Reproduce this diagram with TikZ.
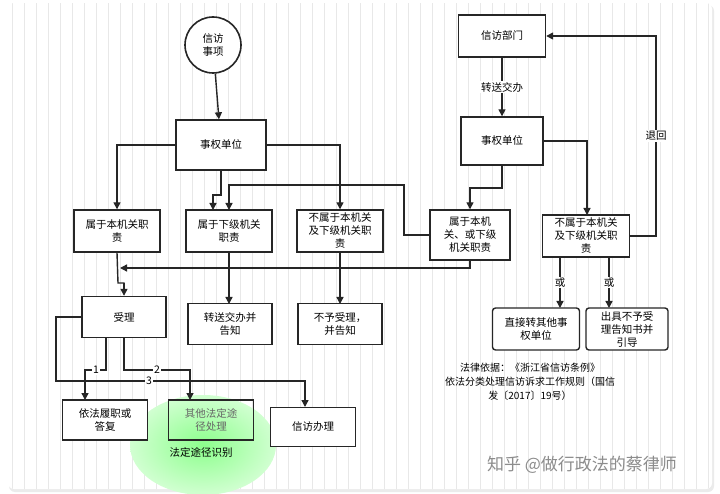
\documentclass[tikz,border=0pt]{standalone}
\usepackage{fontspec}
\setmainfont{Noto Sans CJK SC}
\usetikzlibrary{arrows.meta,shadings}
\begin{document}
\begin{tikzpicture}[x=1pt,y=-1pt,
 box/.style={draw=black!85,line width=1.4pt,fill=white,minimum width=#1,align=center,font=\fontsize{10.5}{13}\selectfont,inner sep=1pt},
 box/.default=86pt,
 ar/.style={draw=black!85,line width=1.4pt,-{Triangle[length=7pt,width=7pt]}},
 ln/.style={draw=black!85,line width=1.4pt},
 lab/.style={fill=white,inner sep=1pt,font=\fontsize{10.5}{12}\selectfont}]
\useasboundingbox (0,0) rectangle (720,494);
\fill[white] (0,0) rectangle (720,494);
\fill[black!8,rounded corners=6pt] (9,5) rectangle (714,492);
\fill[white,rounded corners=6pt] (8,3) rectangle (712,489);
\begin{scope}
\clip[rounded corners=6pt] (8,3) rectangle (712,489);
\draw[black!9,line width=0.4pt] (8,3) grid[step=12] (712,489);
\end{scope}
\shade[inner color=green!45,outer color=green!18] (203,445) ellipse [x radius=73,y radius=50];
% left
\node[draw=black!85,line width=1.6pt,circle,minimum size=56pt,align=center,fill=white,font=\fontsize{10.5}{13}\selectfont,inner sep=0] (c) at (213,45) {信访\\事项};
\node[box=90pt,minimum height=50pt] (q1) at (221,145) {事权单位};
\node[box,minimum height=42pt] (a1) at (117,231) {属于本机关职\\责};
\node[box,minimum height=42pt] (a2) at (229,231) {属于下级机关\\职责};
\node[box,minimum height=42pt] (a3) at (340,231) {不属于本机关\\及下级机关职\\责};
\node[box=80pt,minimum height=50pt] (a4) at (470,235) {属于本机\\关、或下级\\机关职责};
\node[box=84pt,minimum height=41pt] (s) at (124,317) {受理};
\node[box=84pt,minimum height=41pt] (t1) at (230,324) {转送交办并\\告知};
\node[box=84pt,minimum height=41pt] (t2) at (340,324) {不予受理，\\并告知};
\node[box=85pt,minimum height=40pt] (b1) at (105,420) {依法履职或\\答复};
\node[box=85pt,minimum height=40pt,fill=none,text=black!60] (b2) at (211,420) {其他法定途\\径处理};
\node[box=85pt,minimum height=39pt] (b3) at (313,427) {信访办理};
\node[font=\fontsize{10.5}{12}\selectfont] (gl) at (201,452) {法定途径识别};
% right
\node[box=87pt,minimum height=42pt] (r0) at (502,36) {信访部门};
\node[box=82pt,minimum height=48pt] (r1) at (502,141) {事权单位};
\node[box=87pt,minimum height=42pt] (r2) at (586,236) {不属于本机关\\及下级机关职\\责};
\node[box=87pt,minimum height=42pt,rounded corners=3pt] (r3) at (536,329) {直接转其他事\\权单位};
\node[box=82pt,minimum height=42pt,rounded corners=3pt] (r4) at (627,329) {出具不予受\\理告知书并\\引导};
\node[align=center,font=\fontsize{10}{14}\selectfont] (law) at (530,382) {法律依据：《浙江省信访条例》\\依法分类处理信访诉求工作规则（国信\\发〔2017〕19号）};
\node[text=black!45,font=\fontsize{17}{20}\selectfont] (wm) at (582,465) {知乎 @做行政法的蔡律师};
% connectors left
\draw[ar] (c) -- (q1);
\draw[ar] (q1.west) -| (a1.north);
\draw[ar] (q1.south) |- (213,195) -- (213,210);
\draw[ar] (q1.east) -| (a3.north);
\draw[ar] (a4.west) -- (404,235) |- (229,185) -- (229,210);
\draw[ln] (a1.south) -- (118,283) -- (124,283) -- (124,290);
\draw[ar] (124,283) -- (s.north);
\draw[ar] (a4.south) |- (120,268);
\draw[ar] (a2.south) -- (229,304);
\draw[ar] (a3.south) -- (340,304);
\draw[ar] (106,338) |- (85,370) -- (85,400) node[pos=0,lab,xshift=11pt] {1};
\draw[ar] (124,338) |- (190,370) -- (190,400);
\node[lab] at (157,370) {2};
\draw[ar] (s.west) -- (56,317) |- (305,381) -- (305,407);
\node[lab] at (149,381) {3};
% right connectors
\draw[ar] (r0) -- node[lab] {转送交办} (r1);
\draw[ar] (r1.east) -| (587,215);
\draw[ar] (r1.south) |- (470,188) -- (a4.north);
\draw[ar] (r2.east) -| (656,36) node[pos=0.75,lab] {退回} -- (r0.east);
\draw[ar] (560,257) -- node[lab] {或} (560,308);
\draw[ar] (609,257) -- node[lab] {或} (609,308);
\end{tikzpicture}
\end{document}
